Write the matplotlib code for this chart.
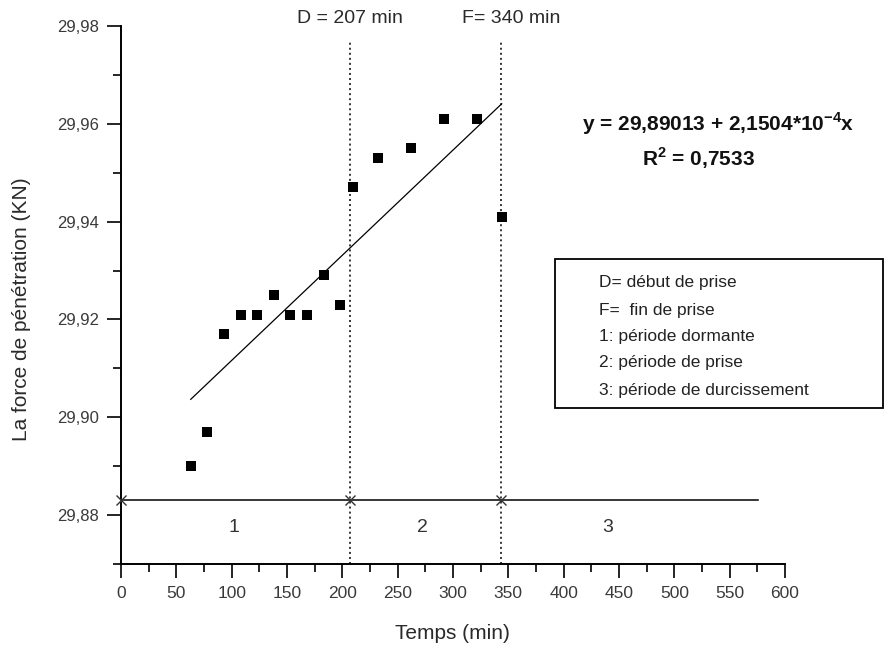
import matplotlib
matplotlib.use("Agg")
import matplotlib.pyplot as plt
from matplotlib.patches import Rectangle
from matplotlib.ticker import MultipleLocator, FuncFormatter
import numpy as np

plt.rcParams['font.family'] = ['Liberation Sans', 'DejaVu Sans']
plt.rcParams['mathtext.fontset'] = 'custom'
plt.rcParams['mathtext.rm'] = 'Liberation Sans'
plt.rcParams['mathtext.bf'] = 'Liberation Sans:bold'

# Data
temps = [63, 78, 93, 108, 123, 138, 153, 168, 183, 198, 210, 232, 262, 292, 322, 344]
force = [29.890, 29.897, 29.917, 29.921, 29.921, 29.925, 29.921, 29.921, 29.929,
         29.923, 29.947, 29.953, 29.955, 29.961, 29.961, 29.941]
intercept = 29.89013
slope = 2.1504e-4
fit_x = [63, 344]
D_time = 207
F_time = 343
phase_y = 29.883
phase_end = 576
phase_marks = [0, 207, 343]
phase_labels = ['1', '2', '3']
phase_label_x = [102, 272, 440]
legend_lines = ["D= début de prise", "F=  fin de prise", "1: période dormante",
                "2: période de prise", "3: période de durcissement"]

fig = plt.figure(figsize=(8.88, 6.51), dpi=100)
ax = fig.add_axes([0.1363, 0.1336, 0.7477, 0.8264])

ax.scatter(temps, force, marker='s', s=58, color='black', zorder=3, linewidths=0)
fx = np.array(fit_x, dtype=float)
ax.plot(fx, intercept + slope * fx, color='black', lw=0.9)

for t in (D_time, F_time):
    ax.plot([t, t], [29.870, 29.977], color='black', lw=1.1, ls=(0, (1.3, 2.0)))

ax.plot([0, phase_end], [phase_y, phase_y], color='black', lw=1.1)
ax.plot(phase_marks, [phase_y] * len(phase_marks), ls='none', marker='x',
        color='#333333', ms=7, mew=1.0, clip_on=False, zorder=4)
for lx, lab in zip(phase_label_x, phase_labels):
    ax.text(lx, 29.8775, lab, ha='center', va='center', fontsize=14, color='#333333')

ax.set_xlim(0, 600)
ax.set_ylim(29.870, 29.98)
ax.spines['top'].set_visible(False)
ax.spines['right'].set_visible(False)
ax.spines['left'].set_bounds(29.870, 29.98)
ax.xaxis.set_major_locator(MultipleLocator(50))
ax.xaxis.set_minor_locator(MultipleLocator(25))
ax.set_yticks([29.88, 29.90, 29.92, 29.94, 29.96, 29.98])
ax.yaxis.set_minor_locator(MultipleLocator(0.01))
ax.yaxis.set_major_formatter(FuncFormatter(lambda v, p: f"{v:.2f}".replace('.', ',')))
ax.tick_params(which='major', length=10, width=1.2, direction='out',
               labelcolor='#3a3a3a', pad=6)
ax.tick_params(axis='x', which='major', labelsize=12.5)
ax.tick_params(axis='y', which='major', labelsize=12)
ax.tick_params(which='minor', length=6, width=1.2, direction='out')
for s in ('left', 'bottom'):
    ax.spines[s].set_linewidth(1.4)

ax.set_xlabel('Temps (min)', fontsize=15, color='#2a2a2a')
ax.set_ylabel('La force de pénétration (KN)', fontsize=15, color='#2a2a2a')
ax.xaxis.set_label_coords(0.4985, -0.1115)
ax.yaxis.set_label_coords(-0.1355, 0.474)

ax.text(D_time, 29.9815, 'D = 207 min', ha='center', va='center', fontsize=14,
        color='#2a2a2a', clip_on=False)
ax.text(353, 29.9815, 'F= 340 min', ha='center', va='center', fontsize=14,
        color='#2a2a2a', clip_on=False)

fig.text(718 / 888, 1 - 124 / 651, r'y = 29,89013 + 2,1504*10$^{\mathbf{-4}}$x',
         ha='center', va='center', fontsize=15, fontweight='bold', color='#111111')
fig.text(698 / 888, 1 - 158 / 651, r'R$^{\mathbf{2}}$ = 0,7533',
         ha='center', va='center', fontsize=15, fontweight='bold', color='#111111')

fig.add_artist(Rectangle((555 / 888, 1 - 408 / 651), (883 - 555) / 888, (408 - 259) / 651,
                         transform=fig.transFigure, fill=False, ec='black', lw=1.3))
ys = [283, 310, 337, 363, 390]
for yy, line in zip(ys, legend_lines):
    fig.text(599 / 888, 1 - yy / 651, line, ha='left', va='center', fontsize=12.5,
             color='#222222')

fig.savefig('out.png', dpi=100)
